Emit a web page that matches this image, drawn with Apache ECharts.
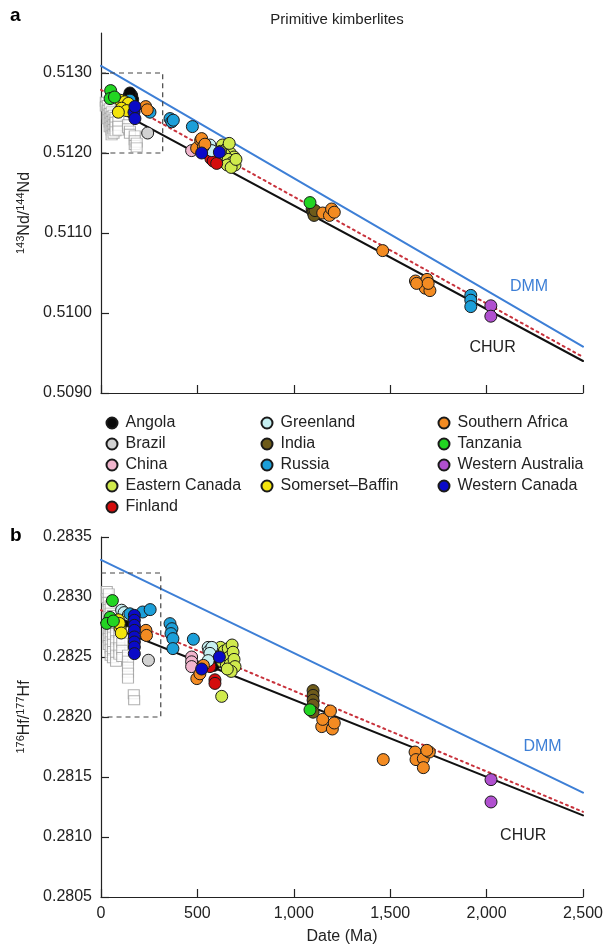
<!DOCTYPE html>
<html><head><meta charset="utf-8">
<script src="https://cdn.jsdelivr.net/npm/echarts@6/dist/echarts.min.js"></script>
<style>html,body{margin:0;padding:0;background:#fff}#c{width:606px;height:946px}</style>
</head><body><div id="c"></div>
<script>
// ---------- axis ticks ----------
const xTicks = [0, 500, 1000, 1500, 2000, 2500];
const ndTicks = [0.5090, 0.5100, 0.5110, 0.5120, 0.5130];
const hfTicks = [0.2805, 0.2810, 0.2815, 0.2820, 0.2825, 0.2830, 0.2835];

// ---------- legend columns ----------
const legendCol1 = ['Angola', 'Brazil', 'China', 'Eastern Canada', 'Finland'];
const legendCol2 = ['Greenland', 'India', 'Russia', 'Somerset–Baffin'];
const legendCol3 = ['Southern Africa', 'Tanzania', 'Western Australia', 'Western Canada'];

// ---------- reference lines [date Ma, ratio] ----------
const ndCHUR = [[0, 0.51264], [2500, 0.50940]];
const ndDMM = [[0, 0.51309], [2500, 0.50958]];
const ndMid = [[0, 0.51279], [2500, 0.50945]];
const hfCHUR = [[0, 0.282785], [2500, 0.28118]];
const hfDMM = [[0, 0.28331], [2500, 0.28137]];
const hfMid = [[0, 0.28289], [2500, 0.28121]];

// dashed boxes: [[x0,y0],[x1,y1]]
const ndBox = [[0, 0.5120], [320, 0.5130]];
const hfBox = [[0, 0.2820], [310, 0.2832]];

// ---------- panel a: 143Nd/144Nd ----------
const ndAngola = [[142,0.51270],[159,0.51272],[164,0.51267],[150,0.51275],[583,0.51194]];
const ndBrazil = [[242,0.51225]];
const ndBrazilSq = [
  [25,0.51264],[25,0.51258],
  [35,0.51260],[35,0.51254],[35,0.51248],[35,0.51242],
  [45,0.51256],[45,0.51250],[45,0.51244],[45,0.51238],[45,0.51232],
  [55,0.51252],[55,0.51246],[55,0.51240],[55,0.51234],[55,0.51228],[55,0.51222],
  [65,0.51248],[65,0.51242],[65,0.51236],[65,0.51230],[65,0.51224],
  [75,0.51245],[75,0.51239],[75,0.51233],[75,0.51227],
  [90,0.51240],[90,0.51234],[90,0.51228],
  [140,0.51236],[140,0.51231],[150,0.51228],[150,0.51224],
  [175,0.51222],[175,0.51216],[175,0.51210],[185,0.51213],[185,0.51207]];
const ndChina = [[470,0.51203]];
const ndEastCanada = [[630,0.51210],[650,0.51205],[670,0.51200],[690,0.51195],[640,0.51198],[660,0.51192],[680,0.51188],[695,0.51185],[655,0.51185],[675,0.51182],[620,0.51202],[700,0.51192],[665,0.51212]];
const ndFinland = [[570,0.51193],[582,0.51190],[600,0.51187]];
const ndGreenland = [[555,0.51205],[565,0.51210],[574,0.51203]];
const ndIndia = [[1095,0.51130],[1100,0.51126],[1105,0.51122],[1110,0.51128]];
const ndRussia = [[150,0.51266],[254,0.51251],[358,0.51243],[367,0.51239],[375,0.51241],[474,0.51233],[1918,0.51022],[1918,0.51016],[1918,0.51008]];
const ndSomerset = [[99,0.51266],[124,0.51264],[142,0.51262],[107,0.51256],[133,0.51253],[90,0.51251]];
const ndSouthAfrica = [[232,0.51258],[240,0.51254],[496,0.51206],[517,0.51216],[522,0.51218],[531,0.51208],[539,0.51211],[1150,0.51125],[1185,0.51122],[1196,0.51130],[1210,0.51126],[1461,0.51078],[1631,0.51040],[1691,0.51042],[1682,0.51031],[1706,0.51028],[1637,0.51037],[1697,0.51037]];
const ndTanzania = [[50,0.51278],[47,0.51268],[70,0.51270],[1084,0.51138]];
const ndWAustralia = [[2022,0.51009],[2022,0.50996]];
const ndWCanada = [[171,0.51251],[176,0.51258],[176,0.51243],[522,0.51200],[614,0.51201]];

// ---------- panel b: 176Hf/177Hf ----------
const hfAngola = [[130,0.28280],[585,0.28243]];
const hfBrazil = [[246,0.282473]];
const hfBrazilSq = [
  [30,0.28305],[30,0.28299],
  [40,0.28303],[40,0.28296],[40,0.28290],[40,0.28284],[40,0.28278],[40,0.28272],[40,0.28266],[40,0.28260],
  [50,0.28293],[50,0.28287],[50,0.28281],[50,0.28275],[50,0.28269],[50,0.28263],[50,0.28257],[50,0.28251],
  [62,0.28285],[62,0.28279],[62,0.28273],[62,0.28267],[62,0.28261],[62,0.28255],[62,0.28249],
  [78,0.28276],[78,0.28270],[78,0.28264],[78,0.28258],[78,0.28252],[78,0.28246],
  [95,0.28270],[95,0.28264],[95,0.28258],[95,0.28252],
  [110,0.28262],[110,0.28256],[110,0.28250],
  [140,0.28252],[140,0.28247],[140,0.28242],[140,0.28237],[140,0.28232],
  [170,0.28219],[172,0.28214]];
const hfChina = [[470,0.28250],[470,0.28246],[470,0.28242]];
const hfEastCanada = [[620,0.28258],[625,0.28252],[630,0.28246],[640,0.28255],[645,0.28249],[650,0.28243],[660,0.28257],[665,0.28250],[670,0.28244],[680,0.28260],[685,0.28254],[690,0.28248],[695,0.28242],[675,0.28238],[655,0.28240],[626,0.282172]];
const hfFinland = [[565,0.28242],[591,0.28231],[591,0.28228]];
const hfGreenland = [[107,0.28289],[120,0.28287],[142,0.28285],[556,0.28258],[560,0.28255],[575,0.28258],[565,0.28253],[556,0.28247]];
const hfIndia = [[1100,0.28222],[1100,0.28218],[1100,0.28214],[1100,0.28210],[1100,0.28204]];
const hfRussia = [[150,0.28286],[216,0.282875],[255,0.282895],[358,0.282778],[368,0.282736],[363,0.282695],[373,0.282653],[373,0.28257],[479,0.282648]];
const hfSomerset = [[90,0.28281],[99,0.28274],[95,0.28278],[105,0.28270]];
const hfSouthAfrica = [[233,0.282722],[236,0.28268],[497,0.28232],[513,0.28236],[531,0.28243],[1145,0.28192],[1150,0.28198],[1190,0.28205],[1200,0.28190],[1210,0.28195],[1464,0.281645],[1629,0.281708],[1634,0.281645],[1672,0.281653],[1672,0.281578],[1703,0.281708],[1690,0.281722]];
const hfTanzania = [[59,0.28297],[47,0.28283],[30,0.28278],[64,0.28280],[1084,0.28206]];
const hfWAustralia = [[2023,0.281478],[2023,0.281292]];
const hfWCanada = [[173,0.282847],[173,0.282806],[173,0.282764],[173,0.282722],[173,0.282667],[173,0.282625],[173,0.282583],[173,0.282528],[522,0.28240],[614,0.28250]];

// ---------- styling ----------
const FONT = "'Liberation Sans', Arial, Helvetica, sans-serif";
const TXT = '#222';
const countryStyle = {
  'Angola': '#0a0a0a', 'Brazil': '#d2d2d2', 'China': '#f1b5cd', 'Eastern Canada': '#d0ea4c',
  'Finland': '#d40c0c', 'Greenland': '#c6eff1', 'India': '#6e5b1a', 'Russia': '#1c9fd9',
  'Somerset–Baffin': '#f3e40c', 'Southern Africa': '#f38b22', 'Tanzania': '#22d522',
  'Western Australia': '#b050cf', 'Western Canada': '#0a0ac8'
};
const countryData = [
  ['Angola', ndAngola, hfAngola], ['Brazil', ndBrazil, hfBrazil], ['China', ndChina, hfChina],
  ['Eastern Canada', ndEastCanada, hfEastCanada], ['Finland', ndFinland, hfFinland],
  ['Greenland', ndGreenland, hfGreenland], ['India', ndIndia, hfIndia], ['Russia', ndRussia, hfRussia],
  ['Somerset–Baffin', ndSomerset, hfSomerset], ['Southern Africa', ndSouthAfrica, hfSouthAfrica],
  ['Tanzania', ndTanzania, hfTanzania], ['Western Australia', ndWAustralia, hfWAustralia],
  ['Western Canada', ndWCanada, hfWCanada]
];

function lineSeries(name, data, idx, color, type, lbl) {
  const s = {
    name, type: 'line', data, xAxisIndex: idx, yAxisIndex: idx, symbol: 'none', silent: true, z: 1,
    lineStyle: { color, width: 2, type, cap: 'round' }
  };
  if (lbl) {
    s.markPoint = {
      symbol: 'circle', symbolSize: 1, silent: true, itemStyle: { color: 'rgba(0,0,0,0)' },
      label: { show: true, position: 'inside', formatter: lbl.text, color: lbl.color, fontSize: 16, fontFamily: FONT },
      data: [{ coord: lbl.coord }]
    };
  }
  return s;
}
function boxSeries(box, idx) {
  const [[x0, y0], [x1, y1]] = box;
  return { name: 'box' + idx, type: 'line', xAxisIndex: idx, yAxisIndex: idx, symbol: 'none', silent: true, z: 1,
    data: [[x0, y1], [x1, y1], [x1, y0], [x0, y0]],
    lineStyle: { color: '#444', width: 1.2, type: [5, 4] } };
}
function sqSeries(data, idx) {
  return { name: 'Brazil squares', type: 'scatter', xAxisIndex: idx, yAxisIndex: idx, data, z: 2,
    symbol: 'rect', symbolSize: [11, 9], itemStyle: { color: '#fff', borderColor: '#9c9c9c', borderWidth: 1 } };
}

const series = [
  lineSeries('ndCHUR', ndCHUR, 0, '#111', 'solid', { text: 'CHUR', color: TXT, coord: [2031, 0.50957] }),
  lineSeries('ndDMM', ndDMM, 0, '#3d7fd6', 'solid', { text: 'DMM', color: '#3d7fd6', coord: [2220, 0.510325] }),
  lineSeries('ndMid', ndMid, 0, '#c8323c', [2, 4]),
  lineSeries('hfCHUR', hfCHUR, 1, '#111', 'solid', { text: 'CHUR', color: TXT, coord: [2190, 0.281014] }),
  lineSeries('hfDMM', hfDMM, 1, '#3d7fd6', 'solid', { text: 'DMM', color: '#3d7fd6', coord: [2290, 0.281756] }),
  lineSeries('hfMid', hfMid, 1, '#c8323c', [2, 4]),
  boxSeries(ndBox, 0), boxSeries(hfBox, 1),
  sqSeries(ndBrazilSq, 0), sqSeries(hfBrazilSq, 1)
];
countryData.forEach(([name, nd, hf]) => {
  [nd, hf].forEach((d, idx) => {
    series.push({ name, type: 'scatter', xAxisIndex: idx, yAxisIndex: idx, data: d, z: 3,
      symbol: 'circle', symbolSize: 12,
      itemStyle: { color: countryStyle[name], borderColor: '#1a1a1a', borderWidth: 1, opacity: 1 } });
  });
});

const axisLine = { show: true, lineStyle: { color: TXT, width: 1.2 } };
const tick = { show: true, inside: true, length: 8, lineStyle: { color: TXT, width: 1.2 } };
const comma = v => String(Math.round(v)).replace(/\B(?=(\d{3})+(?!\d))/g, ',');

function xAx(idx, labels) {
  const a = { gridIndex: idx, type: 'value', min: 0, max: 2500, interval: 500,
    axisLine, axisTick: tick, splitLine: { show: false },
    axisLabel: { show: labels, fontSize: 16, color: TXT, fontFamily: FONT, margin: 9, formatter: comma } };
  if (labels) Object.assign(a, { name: 'Date (Ma)', nameLocation: 'middle', nameGap: 32,
    nameTextStyle: { fontSize: 16, color: TXT, fontFamily: FONT } });
  return a;
}
function yAx(idx, min, max, interval, ticks, name) {
  return { gridIndex: idx, type: 'value', min, max, interval,
    axisLine, splitLine: { show: false },
    axisTick: Object.assign({}, tick, { customValues: ticks }),
    axisLabel: { fontSize: 16, color: TXT, fontFamily: FONT, margin: 9, customValues: ticks,
      formatter: v => v.toFixed(4) },
    name, nameLocation: 'middle', nameRotate: 90, nameGap: 64,
    nameTextStyle: { color: TXT, fontFamily: FONT, fontSize: 16,
      rich: { s: { fontSize: 11, fontFamily: FONT, color: TXT, verticalAlign: 'top', lineHeight: 11 },
              m: { fontSize: 16, fontFamily: FONT, color: TXT, lineHeight: 18 } } } };
}

const legendBase = { orient: 'vertical', top: 415, padding: 0, itemWidth: 11, itemHeight: 11, itemGap: 5, icon: 'circle',
  selectedMode: false, textStyle: { fontSize: 16, color: TXT, fontFamily: FONT, lineHeight: 16, padding: [0, 0, 0, 3] } };

const option = {
  animation: false,
  backgroundColor: '#fff',
  grid: [
    { left: 101, top: 33, width: 482, height: 360 },
    { left: 101, top: 537, width: 482, height: 361 }
  ],
  xAxis: [xAx(0, false), xAx(1, true)],
  yAxis: [
    yAx(0, 0.5090, 0.5135, 0.001, ndTicks, '{s|143}{m|Nd/}{s|144}{m|Nd}'),
    yAx(1, 0.2805, 0.2835, 0.0005, hfTicks, '{s|176}{m|Hf/}{s|177}{m|Hf}')
  ],
  legend: [
    Object.assign({ data: legendCol1, left: 105.5 }, legendBase),
    Object.assign({ data: legendCol2, left: 260.5 }, legendBase),
    Object.assign({ data: legendCol3, left: 437.5 }, legendBase)
  ],
  graphic: [
    { type: 'text', x: 337, y: 20, style: { text: 'Primitive kimberlites', align: 'center', verticalAlign: 'middle', font: '15px ' + FONT, fill: TXT } },
    { type: 'text', x: 10, y: 16, style: { text: 'a', align: 'left', verticalAlign: 'middle', font: 'bold 19px ' + FONT, fill: '#000' } },
    { type: 'text', x: 10, y: 536, style: { text: 'b', align: 'left', verticalAlign: 'middle', font: 'bold 19px ' + FONT, fill: '#000' } }
  ],
  series
};
const chart = echarts.init(document.getElementById('c'), null, { renderer: 'canvas' });
chart.setOption(option);
</script></body></html>
